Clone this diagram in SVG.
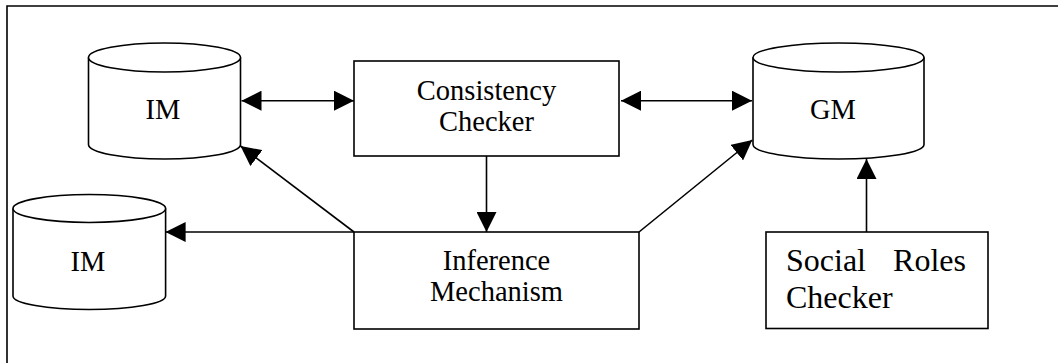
<svg xmlns="http://www.w3.org/2000/svg" width="1058" height="363" viewBox="0 0 1058 363">
<defs>
<style>
.sh{fill:#fff;stroke:#000;stroke-width:1.6}
.ln{fill:none;stroke:#000;stroke-width:1.6}
.t{font-family:"Liberation Serif","Times New Roman",serif;font-size:28.5px;fill:#000}
.t2{font-family:"Liberation Serif","Times New Roman",serif;font-size:32px;fill:#000}
</style>
<marker id="ah" viewBox="0 0 20 20" refX="20" refY="10" markerWidth="20" markerHeight="20" markerUnits="userSpaceOnUse" orient="auto-start-reverse">
<path d="M0,0 L20,10 L0,20 Z" fill="#000"/>
</marker>
</defs>
<rect width="1058" height="363" fill="#fff"/>
<path class="ln" d="M7,363 V6 H1058"/>
<g id="im-top">
<path class="sh" d="M88.5,57.5 V144.5 A76,14.5 0 0 0 240.5,144.5 V57.5"/>
<ellipse class="sh" cx="164.5" cy="57.5" rx="76" ry="14.5"/>
<text class="t" x="163" y="119" text-anchor="middle">IM</text>
</g>
<g id="gm">
<path class="sh" d="M753,57.5 V144.5 A85.5,14.5 0 0 0 924,144.5 V57.5"/>
<ellipse class="sh" cx="838.5" cy="57.5" rx="85.5" ry="14.5"/>
<text class="t" x="833" y="119" text-anchor="middle">GM</text>
</g>
<g id="im-bottom">
<path class="sh" d="M13,208.5 V296 A76.3,13.5 0 0 0 165.6,296 V208.5"/>
<ellipse class="sh" cx="89.3" cy="208.5" rx="76.3" ry="14"/>
<text class="t" x="88" y="270.5" text-anchor="middle">IM</text>
</g>
<g id="consistency-checker">
<rect class="sh" x="354" y="61" width="265" height="95"/>
<text class="t" x="486.5" y="100" text-anchor="middle">Consistency</text>
<text class="t" x="486.5" y="131" text-anchor="middle">Checker</text>
</g>
<g id="inference-mechanism">
<rect class="sh" x="354" y="232" width="285" height="97"/>
<text class="t" x="496.5" y="270" text-anchor="middle">Inference</text>
<text class="t" x="496.5" y="301" text-anchor="middle">Mechanism</text>
</g>
<g id="social-roles-checker">
<rect class="sh" x="766" y="232" width="222" height="96.5"/>
<text class="t2" y="271"><tspan x="786">Social</tspan><tspan x="966" text-anchor="end">Roles</tspan></text>
<text class="t2" x="786" y="307.5">Checker</text>
</g>
<g id="connectors">
<line class="ln" x1="241.5" y1="100.7" x2="354" y2="100.7" marker-start="url(#ah)" marker-end="url(#ah)"/>
<line class="ln" x1="621" y1="100.7" x2="752" y2="100.7" marker-start="url(#ah)" marker-end="url(#ah)"/>
<line class="ln" x1="486.5" y1="156" x2="486.5" y2="232" marker-end="url(#ah)"/>
<line class="ln" x1="354" y1="232" x2="240.5" y2="146" marker-end="url(#ah)"/>
<line class="ln" x1="639" y1="232" x2="752.3" y2="140" marker-end="url(#ah)"/>
<line class="ln" x1="354" y1="232" x2="165.6" y2="232" marker-end="url(#ah)"/>
<line class="ln" x1="866.5" y1="232" x2="866.5" y2="159" marker-end="url(#ah)"/>
</g>
</svg>
